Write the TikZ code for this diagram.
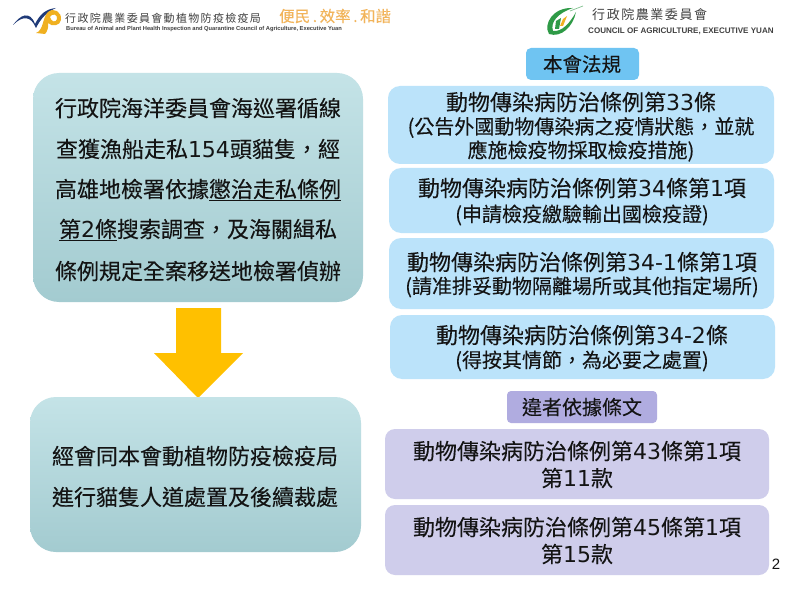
\documentclass[tikz,border=0pt]{standalone}
\usepackage{fontspec}
\setmainfont[FakeBold=0.15]{Noto Sans CJK TC}
\newfontfamily\plainf{Noto Sans CJK TC}
\newfontfamily\latinf{Liberation Sans}
\newfontfamily\digf{DejaVu Sans}
\usetikzlibrary{calc}
\definecolor{tealA}{HTML}{C4E3E7}
\definecolor{tealB}{HTML}{A3CBD0}
\definecolor{blueBox}{HTML}{BBE3FA}
\definecolor{blueHead}{HTML}{6FC4F2}
\definecolor{purpBox}{HTML}{CFCDEB}
\definecolor{purpHead}{HTML}{B0ACE0}
\definecolor{arrowY}{HTML}{FFC000}
\definecolor{navy}{HTML}{1F3A78}
\definecolor{gold}{HTML}{F0B020}
\definecolor{greenL}{HTML}{2E9A46}
\definecolor{orangeT}{HTML}{F2B45A}
\tikzset{
 x=1pt,y=-1pt,
 txt/.style={text=black!92,align=center,inner sep=0pt},
 tealbox/.style={rounded corners=26,top color=tealA,bottom color=tealB,draw=none},
 ruleblue/.style={rounded corners=12,fill=blueBox,draw=none},
 rulepurp/.style={rounded corners=10,fill=purpBox,draw=none},
 headblue/.style={rounded corners=5,fill=blueHead,draw=none},
 headpurp/.style={rounded corners=4,fill=purpHead,draw=none},
 smalltxt/.style={text=black!75,inner sep=0pt,anchor=west}
}
\newcommand{\lw}[1]{\fontsize{#1}{#1}\selectfont}
\newcommand{\dg}[1]{{\digf #1}}
\begin{document}
\begin{tikzpicture}
\useasboundingbox (0,0) rectangle (800,604);
\fill[white] (0,0) rectangle (800,604);
% header left
\fill[navy] (13,25) .. controls (20,15) and (30,10) .. (35,24) .. controls (40,14) and (46,9) .. (56,8) .. controls (47,12) and (41,18) .. (36,28) .. controls (31,16) and (23,15) .. (13,25) -- cycle;
\fill[gold,even odd rule] (36,33) .. controls (44,30) and (42,18) .. (48,12) .. controls (54,7) and (62,12) .. (61,20) .. controls (60,26) and (52,27) .. (48,23) .. controls (49,27) and (47,32) .. (45,34) -- cycle
 (50,17) .. controls (52,13) and (58,14) .. (57,19) .. controls (56,23) and (51,22) .. (50,17) -- cycle;
\node[smalltxt] (t1) at (65,18) {\plainf\lw{11}\addfontfeatures{LetterSpace=12}行政院農業委員會動植物防疫檢疫局};
\node[smalltxt] (t2) at (66,29) {\latinf\bfseries\lw{5.75}Bureau of Animal and Plant Health Inspection and Quarantine Council of Agriculture, Executive Yuan};
\node[text=orangeT,inner sep=0pt,anchor=west] (t3) at (279,16) {\lw{15.5}便民\,.\,效率\,.\,和諧};
% header right
\fill[greenL] (573,8) .. controls (553,7) and (543,24) .. (549,34) .. controls (561,38) and (573,27) .. (576,12) .. controls (570,23) and (562,32) .. (553,31) .. controls (550,22) and (558,13) .. (573,8) -- cycle;
\fill[greenL] (556,21) -- (561,18) -- (559,29) -- (555,29) -- cycle;
\fill[gold] (563,19) -- (567,16) -- (563,26) -- (560,26) -- cycle;
\draw[greenL!60,line width=0.7] (570,11) -- (583,6);
\node[smalltxt] (t4) at (592,15) {\plainf\lw{13}\addfontfeatures{LetterSpace=12}行政院農業委員會};
\node[smalltxt] (t5) at (588,31) {\latinf\lw{8.05}\bfseries COUNCIL OF AGRICULTURE, EXECUTIVE YUAN};
% left boxes
\draw[tealbox] (33,73) rectangle (363,302);
\node[txt] (l1) at (198,108) {\lw{22}行政院海洋委員會海巡署循線};
\node[txt] (l2) at (198,149) {\lw{22}查獲漁船走私\dg{154}頭貓隻，經};
\node[txt] (l3) at (198,190) {\lw{22}高雄地檢署依據\underline{懲治走私條例}};
\node[txt] (l4) at (198,230) {\lw{22}\underline{第\dg{2}條}搜索調查，及海關緝私};
\node[txt] (l5) at (198,271) {\lw{22}條例規定全案移送地檢署偵辦};
\fill[arrowY] (176,308) -- (221,308) -- (221,353) -- (243,353) -- (198,398) -- (154,353) -- (176,353) -- cycle;
\draw[tealbox] (30,397) rectangle (361,552);
\node[txt] (l6) at (195,456) {\lw{22}經會同本會動植物防疫檢疫局};
\node[txt] (l7) at (195,497) {\lw{22}進行貓隻人道處置及後續裁處};
% right column
\draw[headblue] (526,48) rectangle (639,80);
\node[txt] (h1) at (582,64) {\lw{19.5}本會法規};
\draw[ruleblue] (388,86) rectangle (774,164);
\node[txt] (a1) at (581,102) {\lw{22}動物傳染病防治條例第\dg{33}條};
\node[txt] (a2) at (581,127.5) {\lw{20}(公告外國動物傳染病之疫情狀態，並就};
\node[txt] (a3) at (581,151) {\lw{20}應施檢疫物採取檢疫措施)};
\draw[ruleblue] (389,168) rectangle (774,233);
\node[txt] (b1) at (582,188) {\lw{22}動物傳染病防治條例第\dg{34}條第\dg{1}項};
\node[txt] (b2) at (582,215) {\lw{20}(申請檢疫繳驗輸出國檢疫證)};
\draw[ruleblue] (389,238) rectangle (774,309);
\node[txt] (c1) at (582,262) {\lw{22}動物傳染病防治條例第\dg{34-1}條第\dg{1}項};
\node[txt] (c2) at (582,287) {\lw{20}(請准排妥動物隔離場所或其他指定場所)};
\draw[ruleblue] (390,315) rectangle (775,379);
\node[txt] (d1) at (582,335) {\lw{22}動物傳染病防治條例第\dg{34-2}條};
\node[txt] (d2) at (582,361) {\lw{20}(得按其情節，為必要之處置)};
\draw[headpurp] (507,391) rectangle (657,423);
\node[txt] (h2) at (582,407) {\lw{20}違者依據條文};
\draw[rulepurp] (385,429) rectangle (769,499);
\node[txt] (e1) at (577,451) {\lw{22}動物傳染病防治條例第\dg{43}條第\dg{1}項};
\node[txt] (e2) at (577,478) {\lw{22}第\dg{11}款};
\draw[rulepurp] (385,505) rectangle (769,575);
\node[txt] (f1) at (577,527) {\lw{22}動物傳染病防治條例第\dg{45}條第\dg{1}項};
\node[txt] (f2) at (577,554) {\lw{22}第\dg{15}款};
\node[txt] (pg) at (776,564) {\latinf\lw{15}2};
\end{tikzpicture}
\end{document}
